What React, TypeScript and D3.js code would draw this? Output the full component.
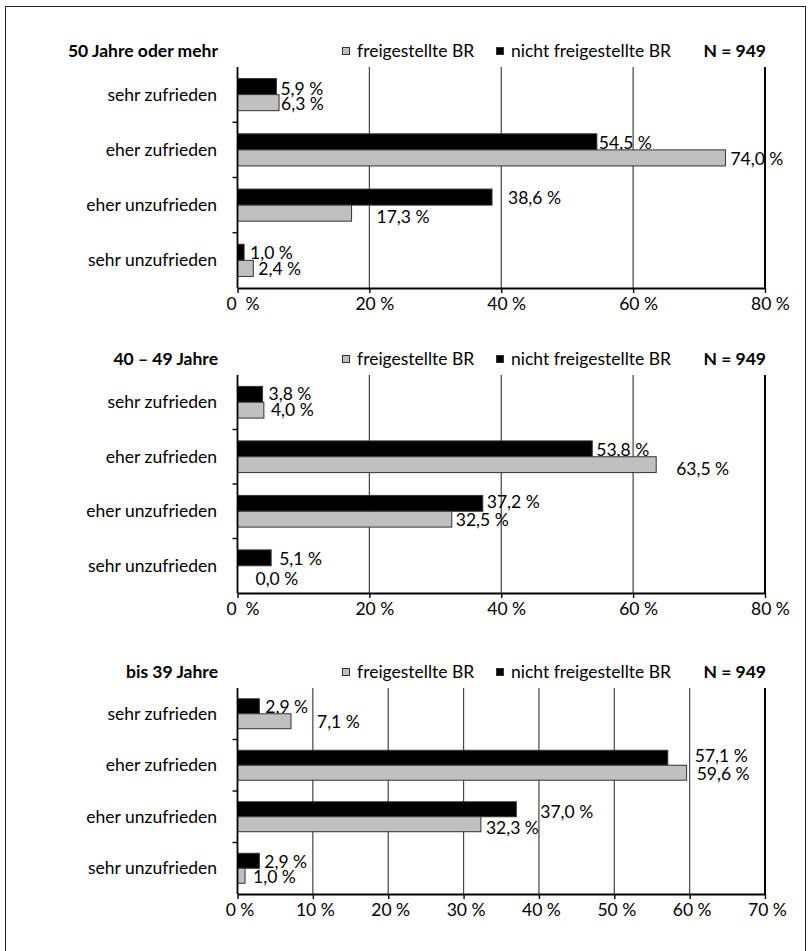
import React, { useEffect, useRef } from 'react'
import * as d3 from 'd3'

const categories = ['sehr zufrieden', 'eher zufrieden', 'eher unzufrieden', 'sehr unzufrieden']
const seriesNames = ['freigestellte BR', 'nicht freigestellte BR']

// values in percent
const frei50 = [6.3, 74.0, 17.3, 2.4]
const nichtFrei50 = [5.9, 54.5, 38.6, 1.0]
const frei40 = [4.0, 63.5, 32.5, 0.0]
const nichtFrei40 = [3.8, 53.8, 37.2, 5.1]
const frei39 = [7.1, 59.6, 32.3, 1.0]
const nichtFrei39 = [2.9, 57.1, 37.0, 2.9]

const ticks80 = [0, 20, 40, 60, 80]
const ticks70 = [0, 10, 20, 30, 40, 50, 60, 70]

// label nudges [dx, dy] in px
const nudgeNicht50 = [[0, 1], [-2, 0], [12, 0], [2, 0]]
const nudgeFrei50 = [[-2, 0], [1, 0], [21, 3], [1, 0]]
const nudgeNicht40 = [[2, -1], [0, 0], [0, -2], [4, 0]]
const nudgeFrei40 = [[3, -1], [16, 3], [0, 0], [14, 4]]
const nudgeNicht39 = [[2, 0], [23, -2], [20, 2], [1, 1]]
const nudgeFrei39 = [[22, 0], [6, 1], [1, 3], [4, 1]]

const panels = [
  { title: '50 Jahre oder mehr', top: 67, bottom: 288, max: 80, ticks: ticks80, frei: frei50, nicht: nichtFrei50, nf: nudgeFrei50, nn: nudgeNicht50, tickDx: 5 },
  { title: '40 – 49 Jahre', top: 375, bottom: 593, max: 80, ticks: ticks80, frei: frei40, nicht: nichtFrei40, nf: nudgeFrei40, nn: nudgeNicht40, tickDx: 5 },
  { title: 'bis 39 Jahre', top: 688, bottom: 894, max: 70, ticks: ticks70, frei: frei39, nicht: nichtFrei39, nf: nudgeFrei39, nn: nudgeNicht39, tickDx: 2 },
]

const FONT = 'Lato, "Liberation Sans", sans-serif'
const FS = 17.5
const fmt = (v: number) => v.toFixed(1).replace('.', ',') + ' %'

const App = () => {
  const svg = useRef<SVGSVGElement>(null)

  useEffect(() => {
    const root = d3.select(svg.current)
    root.selectAll('*').remove()

    // outer frame (bottom edge runs off the page)
    root.append('rect')
      .attr('x', 5.5).attr('y', 6.5).attr('width', 800).attr('height', 960)
      .attr('fill', 'white').attr('stroke', '#222').attr('stroke-width', 1)

    const left = 237.5
    const right = 765

    panels.forEach(p => {
      const g = root.append('g').style('font-family', FONT)
      const x = d3.scaleLinear().domain([0, p.max]).range([left, right])
      const y = d3.scaleBand().domain(categories).range([p.top, p.bottom])
      const ySub = d3.scaleBand().domain(['nicht', 'frei']).range([0, y.bandwidth()]).paddingOuter(0.72)

      // header
      g.append('text').attr('x', 218).attr('y', p.top - 10).attr('text-anchor', 'end')
        .attr('font-weight', 'bold').attr('font-size', FS).text(p.title)
      g.append('text').attr('x', 766).attr('y', p.top - 10).attr('text-anchor', 'end')
        .attr('font-weight', 'bold').attr('font-size', FS).text('N = 949')
      const legend = [
        { name: seriesNames[0], fill: '#c0c0c0', x: 342 },
        { name: seriesNames[1], fill: '#000', x: 496 },
      ]
      legend.forEach(l => {
        g.append('rect').attr('x', l.x + 0.5).attr('y', p.top - 19.5).attr('width', 7).attr('height', 7)
          .attr('fill', l.fill).attr('stroke', '#333').attr('stroke-width', 1)
        g.append('text').attr('x', l.x + 15).attr('y', p.top - 10).attr('font-size', FS).text(l.name)
      })

      // grid lines
      g.selectAll('.grid')
        .data(p.ticks.slice(1))
        .enter()
        .append('line')
        .attr('x1', d => x(d)).attr('x2', d => x(d))
        .attr('y1', p.top).attr('y2', p.bottom)
        .attr('stroke', d => (d === p.max ? '#000' : '#444'))
        .attr('stroke-width', d => (d === p.max ? 2 : 1.2))

      // bars
      const rows = categories.map((c, i) => ({ c, i }))
      const series = [
        { key: 'nicht', fill: '#000', vals: p.nicht, nudge: p.nn },
        { key: 'frei', fill: '#c0c0c0', vals: p.frei, nudge: p.nf },
      ]
      series.forEach(s => {
        g.selectAll('.bar-' + s.key)
          .data(rows)
          .enter()
          .append('rect')
          .attr('x', left)
          .attr('y', d => y(d.c) + ySub(s.key))
          .attr('width', d => x(s.vals[d.i]) - left)
          .attr('height', ySub.bandwidth())
          .attr('fill', s.fill)
          .attr('stroke', '#333')
          .attr('stroke-width', d => (s.vals[d.i] > 0 ? 1 : 0))

        g.selectAll('.label-' + s.key)
          .data(rows)
          .enter()
          .append('text')
          .attr('x', d => x(s.vals[d.i]) + 4 + s.nudge[d.i][0])
          .attr('y', d => y(d.c) + ySub(s.key) + ySub.bandwidth() - 1 + s.nudge[d.i][1])
          .attr('font-size', FS)
          .text(d => fmt(s.vals[d.i]))
      })

      // category labels
      g.selectAll('.cat')
        .data(categories)
        .enter()
        .append('text')
        .attr('x', 217)
        .attr('y', d => y(d) + y.bandwidth() / 2 + 6)
        .attr('text-anchor', 'end')
        .attr('font-size', FS)
        .text(d => d)

      // left axis with ticks at band edges
      g.append('line').attr('x1', left).attr('x2', left).attr('y1', p.top).attr('y2', p.bottom)
        .attr('stroke', '#000').attr('stroke-width', 1.8)
      g.selectAll('.ytick')
        .data(categories.slice(1))
        .enter()
        .append('line')
        .attr('x1', left - 5).attr('x2', left)
        .attr('y1', d => y(d)).attr('y2', d => y(d))
        .attr('stroke', '#000').attr('stroke-width', 1.4)

      // bottom axis
      const xAxis = d3.axisBottom(x)
        .tickValues(p.ticks)
        .tickSize(5)
        .tickSizeOuter(0)
        .tickPadding(5)
        .tickFormat(d => (d === 0 && p.max === 80 ? '0\u2002%' : d + ' %'))
      const ax = g.append('g').attr('transform', `translate(0, ${p.bottom})`).call(xAxis)
      ax.select('.domain').attr('stroke', '#000').attr('stroke-width', 1.8)
      ax.selectAll('.tick line').attr('stroke', '#000').attr('stroke-width', 1.4)
      ax.selectAll('.tick text')
        .attr('font-size', FS).attr('font-family', FONT).attr('fill', '#000')
        .attr('dx', p.tickDx)
    })
  }, [])

  return (
    <svg
      ref={svg}
      width={811}
      height={951}
      style={{ position: 'absolute', left: 0, top: 0, background: 'white' }}
    ></svg>
  )
}

export default App
